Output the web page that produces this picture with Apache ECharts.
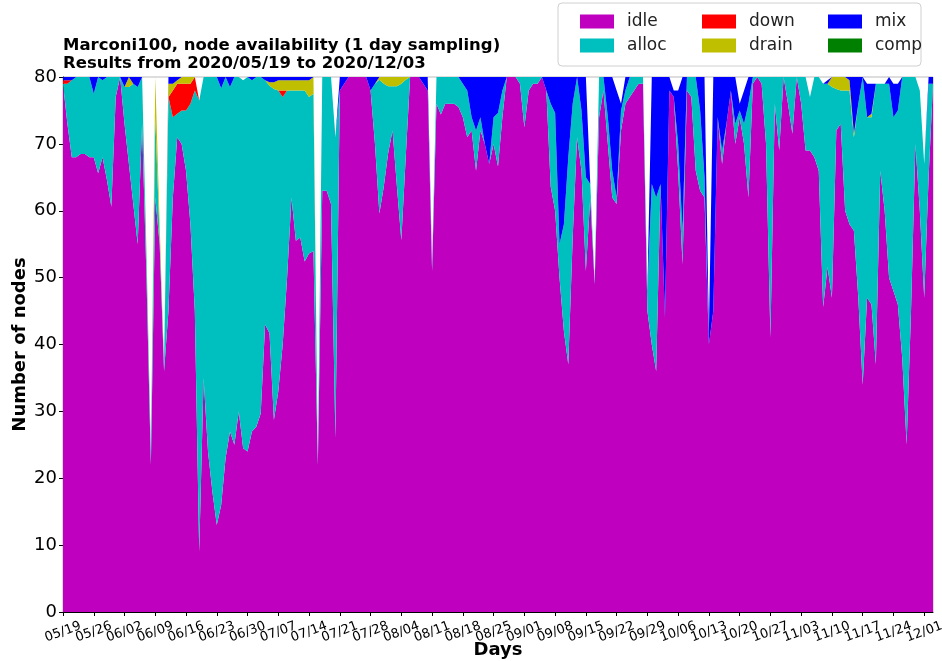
<!DOCTYPE html>
<html>
<head>
<meta charset="utf-8">
<title>Marconi100 node availability</title>
<script src="https://cdn.jsdelivr.net/npm/echarts@6/dist/echarts.min.js"></script>
<style>
  html, body { margin: 0; padding: 0; background: #fff; }
  #chart { width: 942px; height: 661px; }
</style>
</head>
<body>
<div id="chart"></div>
<script>
// daily samples 2020/05/19 -> 2020/12/03 (199 days)
var startDay = '2020-05-19';
var nDays = 199;

// values, one per day
var idle = [
  79, 73, 68, 68, 68.5, 68.5, 68, 68, 65.6, 68,
  64.6, 60.6, 77, 80, 73, 67, 61, 55, 73, 50,
  22, 62, 55, 36, 45, 62, 71, 70, 66, 58,
  45, 9, 35, 24, 18, 13, 16, 23, 27, 25,
  30, 24.5, 24, 27, 27.7, 29.7, 43, 41.7, 28.7, 33,
  40, 50, 62, 55.5, 56, 52.4, 53.6, 54, 22, 63,
  63, 61, 26, 78, 79, 80, 80, 80, 80, 80,
  78, 70, 59.6, 63.6, 68.6, 72, 63.6, 55.6, 68, 80,
  80, 80, 79, 78, 51, 76, 74.4, 76, 76, 76,
  75.5, 74, 71, 72, 66, 72, 70, 67, 70, 66.6,
  74, 80, 80, 80, 79, 72.5, 78, 79, 79, 80,
  78, 63.6, 60, 50, 42, 37, 56, 71, 66, 51,
  62, 49, 74, 78, 70, 62, 61, 72, 76, 77,
  78, 79, 79, 45, 40, 36, 64, 44, 78, 77,
  66, 52, 78, 77, 66, 63, 62, 40, 45, 74,
  67, 73, 78, 70, 74, 70, 62, 79, 80, 79,
  70, 41, 76, 69, 80, 76, 71.5, 80, 76, 69,
  69, 68, 66, 45.6, 51.6, 47, 72, 73, 60, 58,
  57, 47, 34, 47, 46, 37, 66, 60, 50, 48,
  46, 38, 25, 45, 70, 60, 47, 65, 79
];
var alloc = [
  0, 6, 11.5, 12, 11.5, 11.5, 12, 9.5, 14.4, 11.5,
  15.4, 19.4, 3, 0, 5.5, 11.5, 18, 23.5, 7, 3,
  2, 12, 1, 1, 32, 12, 3.5, 5, 9, 18,
  33, 67.5, 45, 56, 62, 67, 62.3, 57, 51.5, 55,
  50, 55, 56, 52.5, 52.3, 50.3, 36.5, 37, 49.5, 45,
  37, 28, 16, 22.5, 22, 25.6, 23.4, 23.5, 0.5, 17,
  17, 19, 45, 0, 0, 0, 0, 0, 0, 0,
  0, 9, 20, 15.4, 10, 6.6, 15, 23.4, 11.6, 0,
  0, 0, 0, 0, 1, 4, 5.6, 4, 4, 4,
  4.5, 5, 7, 2, 6, 2, 0, 0, 4, 8,
  4, 0, 0, 0, 1, 7.5, 2, 1, 1, 0,
  0, 12.4, 14.6, 5, 16, 31, 20, 9, 9, 14,
  2, 0.5, 6, 2, 4, 4, 1, 3, 2, 3,
  2, 1, 1, 3, 24, 26, 0, 0, 0, 0,
  4, 5, 2, 3, 14, 12, 3, 0, 0, 0,
  2, 0, 0, 3, 1, 3, 14, 1, 0, 1,
  10, 39, 4, 11, 0, 4, 8.5, 0, 4, 11,
  8, 12, 14, 33.4, 27.4, 31.5, 6.2, 5, 18, 20,
  14, 29, 46, 27, 28, 42, 13, 19, 29, 26,
  29, 42, 55, 35, 10, 18, 20, 14, 0
];
var down = [
  0.5, 0.5, 0, 0, 0, 0, 0, 0, 0, 0,
  0, 0, 0, 0, 0, 0, 0, 0, 0, 0,
  0, 0, 0, 0, 0, 4, 4.5, 4, 4, 3,
  2, 0, 0, 0, 0, 0, 0, 0, 0, 0,
  0, 0, 0, 0, 0, 0, 0, 0, 0, 0,
  1, 0, 0, 0, 0, 0, 0, 0, 0, 0,
  0, 0, 0, 0, 0, 0, 0, 0, 0, 0,
  0, 0, 0, 0, 0, 0, 0, 0, 0, 0,
  0, 0, 0, 0, 0, 0, 0, 0, 0, 0,
  0, 0, 0, 0, 0, 0, 0, 0, 0, 0,
  0, 0, 0, 0, 0, 0, 0, 0, 0, 0,
  0, 0, 0, 0, 0, 0, 0, 0, 0, 0,
  0, 0, 0, 0, 0, 0, 0, 0, 0, 0,
  0, 0, 0, 0, 0, 0, 0, 0, 0, 0,
  0, 0, 0, 0, 0, 0, 0, 0, 0, 0,
  0, 0, 0, 0, 0, 0, 0, 0, 0, 0,
  0, 0, 0, 0, 0, 0, 0, 0, 0, 0,
  0, 0, 0, 0, 0, 0, 0, 0, 0, 0,
  0, 0, 0, 0, 0, 0, 0, 0, 0, 0,
  0, 0, 0, 0, 0, 0, 0, 0, 0
];
var drain = [
  0, 0, 0, 0, 0, 0, 0, 0, 0, 0,
  0, 0, 0, 0, 0, 1.5, 0, 0, 0, 1,
  0, 6, 2, 0, 2, 1, 0.5, 1, 1, 1,
  0, 0, 0, 0, 0, 0, 0, 0, 0, 0,
  0, 0, 0, 0, 0, 0, 0, 0.5, 1, 1.5,
  1.5, 1.5, 1.5, 1.5, 1.5, 1.5, 2.5, 2.5, 0, 0,
  0, 0, 0, 0, 0, 0, 0, 0, 0, 0,
  0, 0, 0.4, 1, 1.4, 1.4, 1.4, 1, 0.4, 0,
  0, 0, 0, 0, 0, 0, 0, 0, 0, 0,
  0, 0, 0, 0, 0, 0, 0, 0, 0, 0,
  0, 0, 0, 0, 0, 0, 0, 0, 0, 0,
  0, 0, 0, 0, 0, 0, 0, 0, 0, 0,
  0, 0, 0, 0, 0, 0, 0, 0, 0, 0,
  0, 0, 0, 0, 0, 0, 0, 0, 0, 0,
  0, 0, 0, 0, 0, 0, 0, 0, 0, 0,
  0, 0, 0, 0, 0, 0, 0, 0, 0, 0,
  0, 0, 0, 0, 0, 0, 0, 0, 0, 0,
  0, 0, 0, 0, 0, 1.5, 1.8, 2, 2, 1.5,
  0.5, 0, 0, 0, 0.5, 0, 0, 0, 0, 0,
  0, 0, 0, 0, 0, 0, 0, 0, 0
];
var mix = [
  0.5, 0.5, 0.5, 0, 0, 0, 0, 2.5, 0, 0.5,
  0, 0, 0, 0, 1.5, 0, 1, 1.5, 0, 0,
  0, 0, 0, 0, 1, 1, 0.5, 0, 0, 0,
  0, 0, 0, 0, 0, 0, 1.7, 0, 1.5, 0,
  0, 0, 0, 0.5, 0, 0, 0.5, 0.8, 0.8, 0.5,
  0.5, 0.5, 0.5, 0.5, 0.5, 0.5, 0.5, 0, 0, 0,
  0, 0, 0, 2, 1, 0, 0, 0, 0, 0,
  2, 1, 0, 0, 0, 0, 0, 0, 0, 0,
  0, 0, 1, 2, 0, 0, 0, 0, 0, 0,
  0, 1, 2, 6, 8, 6, 10, 13, 6, 5.4,
  2, 0, 0, 0, 0, 0, 0, 0, 0, 0,
  2, 4, 5.4, 25, 22, 12, 4, 0, 5, 15,
  0, 0, 0, 0, 6, 14, 16, 1, 2, 0,
  0, 0, 0, 0, 16, 18, 16, 36, 2, 1,
  8, 23, 0, 0, 0, 5, 15, 2, 35, 6,
  11, 7, 2, 7, 1, 5, 4, 0, 0, 0,
  0, 0, 0, 0, 0, 0, 0, 0, 0, 0,
  0, 0, 0, 0, 0.5, 0, 0, 0, 0, 0.5,
  8.5, 4, 0, 5, 4.5, 0, 0, 0, 1, 5,
  4, 0, 0, 0, 0, 0, 0, 1, 1
];
var comp = [
  0, 0, 0, 0, 0, 0, 0, 0, 0, 0,
  0, 0, 0, 0, 0, 0, 0, 0, 0, 0,
  0, 0, 0, 0, 0, 0, 0, 0, 0, 0,
  0, 0, 0, 0, 0, 0, 0, 0, 0, 0,
  0, 0, 0, 0, 0, 0, 0, 0, 0, 0,
  0, 0, 0, 0, 0, 0, 0, 0, 0, 0,
  0, 0, 0, 0, 0, 0, 0, 0, 0, 0,
  0, 0, 0, 0, 0, 0, 0, 0, 0, 0,
  0, 0, 0, 0, 0, 0, 0, 0, 0, 0,
  0, 0, 0, 0, 0, 0, 0, 0, 0, 0,
  0, 0, 0, 0, 0, 0, 0, 0, 0, 0,
  0, 0, 0, 0, 0, 0, 0, 0, 0, 0,
  0, 0, 0, 0, 0, 0, 0, 0, 0, 0,
  0, 0, 0, 0, 0, 0, 0, 0, 0, 0,
  0, 0, 0, 0, 0, 0, 0, 0, 0, 0,
  0, 0, 0, 0, 0, 0, 0, 0, 0, 0,
  0, 0, 0, 0, 0, 0, 0, 0, 0, 0,
  0, 0, 0, 0, 0, 0, 0, 0, 0, 0,
  0, 0, 0, 0, 0, 0, 0, 0, 0, 0,
  0, 0, 0, 0, 0, 0, 0, 0, 0
];

var seriesNames = ['idle', 'alloc', 'down', 'drain', 'mix', 'comp'];
var seriesColors = ['#bf00bf', '#00bfbf', '#ff0000', '#bfbf00', '#0000ff', '#008000'];
var seriesData = [idle, alloc, down, drain, mix, comp];

// day labels mm/dd
var days = [];
var d0 = new Date(startDay + 'T00:00:00Z');
for (var i = 0; i < nDays; i++) {
    var d = new Date(d0.getTime() + i * 86400000);
    var mm = ('0' + (d.getUTCMonth() + 1)).slice(-2);
    var dd = ('0' + d.getUTCDate()).slice(-2);
    days.push(mm + '/' + dd);
}

var font = 'DejaVu Sans';
var myChart = echarts.init(document.getElementById('chart'));

var series = [];
for (var s = 0; s < seriesNames.length; s++) {
    series.push({
        name: seriesNames[s],
        type: 'line',
        stack: 'nodes',
        xAxisIndex: 0,
        symbol: 'none',
        showSymbol: false,
        smooth: false,
        lineStyle: { width: 0 },
        areaStyle: { color: seriesColors[s], opacity: 1 },
        itemStyle: { color: seriesColors[s] },
        data: seriesData[s]
    });
}

// legend in 3 columns, 2 rows (matplotlib ncol=3 order)
function legendCol(names, left) {
    return {
        data: names,
        orient: 'vertical',
        left: left,
        top: 8,
        itemWidth: 34,
        itemHeight: 14,
        itemGap: 7,
        icon: 'rect',
        textStyle: { fontFamily: font, fontSize: 17, color: '#222', padding: [0, 0, 0, 8] }
    };
}

// weekly labels, split over two axes so the rotated labels are all kept
var tickLabel = {
    rotate: 20,
    align: 'center',
    verticalAlign: 'middle',
    margin: 20,
    hideOverlap: false,
    fontFamily: font,
    fontSize: 13,
    color: '#000'
};
function weekAxis(offsetDays, withLine) {
    return {
        type: 'category',
        data: days,
        position: 'bottom',
        boundaryGap: false,
        name: withLine ? 'Days' : '',
        nameLocation: 'middle',
        nameGap: 29,
        nameMoveOverlap: false,
        nameTextStyle: { fontFamily: font, fontSize: 18, fontWeight: 'bold', color: '#000' },
        axisLine: { show: withLine, lineStyle: { color: '#000', width: 1 } },
        axisTick: { show: withLine, interval: 6, length: 4, lineStyle: { color: '#000' } },
        axisLabel: Object.assign({}, tickLabel, {
            interval: function (idx) { return idx % 14 === offsetDays; }
        }),
        splitLine: { show: false }
    };
}

var option = {
    backgroundColor: '#fff',
    animation: false,
    title: {
        text: 'Marconi100, node availability (1 day sampling)\nResults from 2020/05/19 to 2020/12/03',
        left: 58,
        top: 32,
        textStyle: {
            fontFamily: font,
            fontSize: 16.5,
            fontWeight: 'bold',
            lineHeight: 18,
            color: '#000'
        }
    },
    graphic: [{
        type: 'rect',
        shape: { x: 558, y: 3, width: 363, height: 63, r: 4 },
        style: { fill: '#fff', stroke: '#d0d0d0', lineWidth: 1 },
        z: -1
    }],
    legend: [
        legendCol(['idle', 'alloc'], 575),
        legendCol(['down', 'drain'], 697),
        legendCol(['mix', 'comp'], 823)
    ],
    grid: {
        left: 63,
        right: 9,
        top: 77,
        bottom: 49,
        containLabel: false,
        outerBoundsMode: 'none',
        show: true,
        borderColor: '#bbb',
        borderWidth: 1
    },
    xAxis: [weekAxis(0, true), weekAxis(7, false)],
    yAxis: {
        type: 'value',
        min: 0,
        max: 80,
        interval: 10,
        name: 'Number of nodes',
        nameLocation: 'middle',
        nameGap: 34,
        nameMoveOverlap: false,
        nameTextStyle: { fontFamily: font, fontSize: 18, fontWeight: 'bold', color: '#000' },
        axisLine: { show: true, lineStyle: { color: '#000', width: 1 } },
        axisTick: { show: true, length: 4, lineStyle: { color: '#000' } },
        axisLabel: { fontFamily: font, fontSize: 18, color: '#000', margin: 6 },
        splitLine: { show: false }
    },
    series: series
};

myChart.setOption(option);
</script>
</body>
</html>
